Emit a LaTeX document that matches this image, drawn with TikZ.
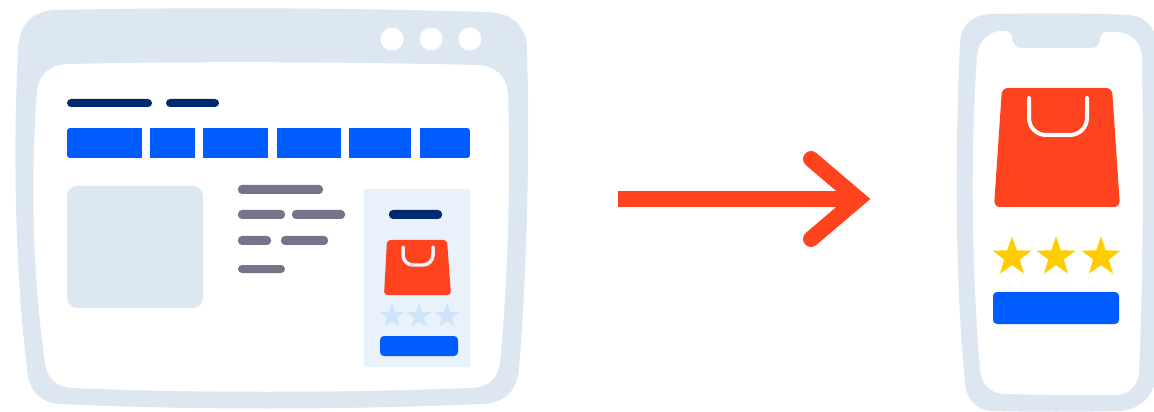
\documentclass[tikz,border=0pt]{standalone}
\usepackage{xcolor}
\usepackage{tikz}
\usetikzlibrary{shapes.geometric}

\definecolor{frameblue}{HTML}{DCE7F2}
\definecolor{panelblue}{HTML}{E9F1FA}
\definecolor{brightblue}{HTML}{005CFF}
\definecolor{navyblue}{HTML}{002A6E}
\definecolor{linegrey}{HTML}{787389}
\definecolor{bagred}{HTML}{FF431F}
\definecolor{palestar}{HTML}{CFE4FB}
\definecolor{goldstar}{HTML}{FFCC00}

\begin{document}
\begin{tikzpicture}[
    x=0.02cm,
    y=-0.02cm,
    navbar/.style={fill=navyblue, rounded corners=0.8mm},
    greybar/.style={fill=linegrey, rounded corners=0.8mm},
    bagbody/.style={fill=bagred, rounded corners=1.2mm},
    baghandle/.style={draw=white, line cap=round},
    dot/.style={circle, fill=white, minimum size=0.46cm, inner sep=0pt},
    starmark/.style={star, star points=5, star point ratio=2.5, inner sep=0pt, minimum size=#1},
    pointer/.style={draw=bagred, line width=0.32cm}
]
\useasboundingbox (0,0) rectangle (1154,412);

% window frame
\fill[frameblue]
    (18,50) .. controls (19,26) and (30,12) .. (54,10)
    .. controls (200,7) and (350,8) .. (488,12)
    .. controls (513,13) and (527,27) .. (527,50)
    .. controls (530,150) and (527,270) .. (519,368)
    .. controls (517,391) and (505,403) .. (482,404)
    .. controls (340,410) and (190,410) .. (60,404)
    .. controls (40,403) and (28,390) .. (27,368)
    .. controls (15,270) and (13,150) .. (18,50) -- cycle;
\fill[white]
    (37,92) .. controls (38,75) and (49,65) .. (67,64)
    .. controls (200,61) and (350,62) .. (478,65)
    .. controls (496,66) and (507,77) .. (508,94)
    .. controls (511,190) and (507,290) .. (500,362)
    .. controls (499,378) and (488,388) .. (470,388)
    .. controls (340,393) and (190,393) .. (72,388)
    .. controls (56,387) and (46,377) .. (45,362)
    .. controls (33,280) and (30,180) .. (37,92) -- cycle;

\foreach \name/\px in {a/392, b/431, c/470}
    \node[dot] (dot\name) at (\px,39) {};

% header
\fill[navbar] (67,99) rectangle (152,107);
\fill[navbar] (166,99) rectangle (219,107);

% menu row
\begin{scope}
    \clip[rounded corners=0.6mm] (67,128) rectangle (470,158);
    \foreach \xa/\xb in {67/142, 150/195, 203/268, 277/341, 349/411, 420/470}
        \fill[brightblue] (\xa,128) rectangle (\xb,158);
\end{scope}

% picture and text lines
\fill[frameblue, rounded corners=2mm] (67,186) rectangle (203,308);
\fill[greybar] (238,185) rectangle (323,194);
\fill[greybar] (238,210) rectangle (285,219);
\fill[greybar] (292,210) rectangle (345,219);
\fill[greybar] (238,236) rectangle (271,245);
\fill[greybar] (281,236) rectangle (328,245);
\fill[greybar] (238,265) rectangle (285,273);

% side panel
\fill[panelblue, rounded corners=0.4mm] (364,189) rectangle (470,367);
\fill[navbar] (389,210) rectangle (442,219);
\fill[bagbody, rounded corners=0.7mm] (387,240) -- (447,240) -- (451,295) -- (384,295) -- cycle;
\draw[baghandle, draw=panelblue, line width=0.07cm, rounded corners=2mm] (403,247) -- (403,265) -- (433,265) -- (433,247);
\foreach \name/\px in {a/392, b/419, c/447}
    \node[starmark=0.52cm, fill=palestar] (pale\name) at (\px,316) {};
\fill[brightblue, rounded corners=0.8mm] (380,336) rectangle (458,356);

% arrow between the screens
\coordinate (shaftstart) at (618,199);
\coordinate (shaftend) at (850,199);
\coordinate (headtip) at (858,199);
\coordinate (barbup) at (811,159);
\coordinate (barbdown) at (811,239);
\draw[pointer] (shaftstart) -- (shaftend);
\draw[pointer, line cap=round, line join=miter] (barbup) -- (headtip) -- (barbdown);

% phone frame
\fill[frameblue]
    (960,43) .. controls (961,25) and (972,15) .. (990,14)
    .. controls (1040,13) and (1090,13) .. (1130,15)
    .. controls (1145,16) and (1156,28) .. (1157,45)
    -- (1157,370)
    .. controls (1156,395) and (1140,410) .. (1120,411)
    .. controls (1080,412) and (1030,412) .. (992,411)
    .. controls (975,410) and (966,398) .. (965,383)
    .. controls (955,280) and (955,150) .. (960,43) -- cycle;
\fill[white]
    (977,57) .. controls (978,42) and (988,32) .. (1000,31)
    -- (1006,31) .. controls (1011,32) and (1012,35) .. (1012,39)
    .. controls (1013,44) and (1016,48) .. (1021,48)
    -- (1092,48) .. controls (1097,48) and (1100,44) .. (1100,39)
    .. controls (1101,34) and (1103,32) .. (1107,32)
    -- (1117,32) .. controls (1132,33) and (1141,43) .. (1142,57)
    .. controls (1144,170) and (1143,280) .. (1139,372)
    .. controls (1138,385) and (1130,394) .. (1117,395)
    .. controls (1080,395) and (1040,395) .. (1003,394)
    .. controls (990,393) and (981,383) .. (980,370)
    .. controls (972,270) and (970,160) .. (977,57) -- cycle;

% bag, stars and button on the phone
\fill[bagbody] (1002,88) -- (1112,88) -- (1120,207) -- (994,207) -- cycle;
\draw[baghandle, line width=0.08cm, rounded corners=3.4mm] (1029,98) -- (1029,135) -- (1087,135) -- (1087,98);
\foreach \name/\px in {a/1012, b/1056, c/1101}
    \node[starmark=0.82cm, fill=goldstar] (gold\name) at (\px,257) {};
\fill[brightblue, rounded corners=0.8mm] (993,292) rectangle (1119,324);

\end{tikzpicture}
\end{document}
